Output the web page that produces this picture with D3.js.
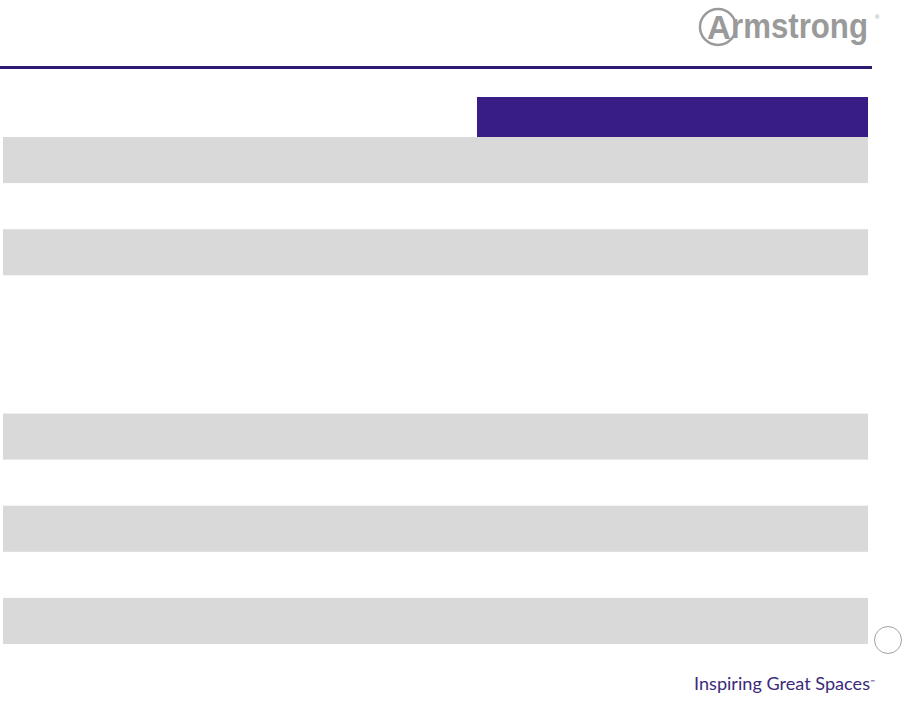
<!DOCTYPE html>
<html>
<head>
<meta charset="utf-8">
<script src="https://cdn.jsdelivr.net/npm/d3@7"></script>
<style>
  body { margin: 0; background: #fff; }
  svg { display: block; }
</style>
</head>
<body>
<script>
const width = 905;
const height = 704;

// table rows (labels are blank on this slide), shaded = grey band
const rowIds = ["r1", "r2", "r3", "r4", "r5", "r6", "r7", "r8", "r9", "r10", "r11"];
const rowShaded = [true, false, true, false, false, false, true, false, true, false, true];
const columns = ["label", "value"];
const headerCols = ["value"];

const purple = "#391d86";
const grey = "#d9d9d9";

const svg = d3
  .select("body")
  .append("svg")
  .attr("width", width)
  .attr("height", height);

// rule under the title area
svg
  .append("rect")
  .attr("x", 0)
  .attr("y", 66)
  .attr("width", 872)
  .attr("height", 3)
  .attr("fill", "#2e1a72");

// table scales
const x = d3.scaleOrdinal().domain(columns).range([3, 477]);
const colEnd = 868;
const y = d3.scaleBand().domain(rowIds).range([137, 644]);

// header cell
svg
  .append("g")
  .selectAll("rect")
  .data(headerCols)
  .join("rect")
  .attr("x", (d) => x(d))
  .attr("y", 97)
  .attr("width", (d) => colEnd - x(d))
  .attr("height", 40)
  .attr("fill", purple);

// body rows
svg
  .append("g")
  .selectAll("rect")
  .data(rowIds.filter((d, i) => rowShaded[i]))
  .join("rect")
  .attr("x", x("label"))
  .attr("y", (d) => y(d))
  .attr("width", colEnd - x("label"))
  .attr("height", y.bandwidth())
  .attr("fill", grey);

// logo
const logo = svg.append("g").attr("fill", "#9a9a9a");
logo
  .append("circle")
  .attr("cx", 718)
  .attr("cy", 27)
  .attr("r", 18)
  .attr("fill", "none")
  .attr("stroke", "#9a9a9a")
  .attr("stroke-width", 2.5);
logo
  .append("text")
  .attr("x", 719)
  .attr("y", 39)
  .attr("text-anchor", "middle")
  .style("font-family", "Liberation Sans, Arial, sans-serif")
  .style("font-weight", "bold")
  .style("font-size", "33px")
  .text("A");
logo
  .append("text")
  .attr("transform", "translate(731,38) scale(1,1.12)")
  .attr("textLength", 137)
  .attr("lengthAdjust", "spacingAndGlyphs")
  .style("font-family", "Liberation Sans, Arial, sans-serif")
  .style("font-weight", "bold")
  .style("font-size", "31px")
  .text("rmstrong");
logo
  .append("text")
  .attr("x", 875)
  .attr("y", 19)
  .style("font-family", "Liberation Sans, Arial, sans-serif")
  .style("font-size", "6px")
  .text("®");

// page number circle
svg
  .append("circle")
  .attr("cx", 888)
  .attr("cy", 640)
  .attr("r", 13.5)
  .attr("fill", "#fff")
  .attr("stroke", "#a0a0a0")
  .attr("stroke-width", 1);

// tagline
const tag = svg
  .append("text")
  .attr("x", 694)
  .attr("y", 690)
  .attr("fill", "#3b2a7a")
  .style("font-family", "Lato, 'Open Sans', sans-serif")
  .style("font-size", "18px");
tag.append("tspan").attr("textLength", 176).attr("lengthAdjust", "spacingAndGlyphs").text("Inspiring Great Spaces");
tag.append("tspan").attr("dy", -6).style("font-size", "6px").text("™");
</script>
</body>
</html>
